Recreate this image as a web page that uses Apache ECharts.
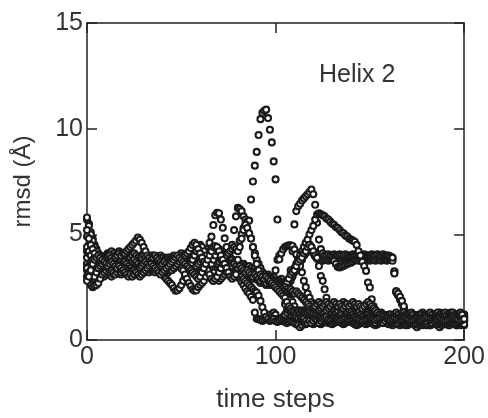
<!DOCTYPE html>
<html>
<head>
<meta charset="utf-8">
<script src="https://cdn.jsdelivr.net/npm/echarts@6/dist/echarts.min.js"></script>
<style>
html,body{margin:0;padding:0;background:#fff;}
#chart{width:488px;height:418px;}
</style>
</head>
<body>
<div id="chart"></div>
<script>
// x: time step index (0..200), values: rmsd (Å)
const xTicks = [0, 100, 200];
const yTicks = [0, 5, 10, 15];
const panelLabel = 'Helix 2';

const run1 = [
5.7,5.5,5.1,4.8,4.5,4.3,4.1,4.0,3.9,3.9,
3.8,3.7,3.8,3.6,3.7,3.5,3.6,3.7,3.6,3.5,
3.6,3.5,3.4,3.5,3.6,3.5,3.4,3.5,3.6,3.7,
3.6,3.7,3.8,3.7,3.6,3.7,3.8,3.9,3.8,3.7,
3.6,3.5,3.6,3.7,3.6,3.5,3.4,3.5,3.6,3.7,
3.8,3.9,3.8,3.7,3.6,3.5,3.4,3.3,3.4,3.5,
3.6,3.7,3.8,3.7,3.6,3.5,3.6,3.7,3.8,3.9,
4.0,4.1,4.2,4.1,4.0,4.1,4.3,4.5,5.2,5.85,
6.25,6.2,6.1,5.85,5.7,5.6,5.65,6.65,7.5,8.25,
8.9,9.7,10.45,10.75,10.85,10.9,10.5,9.95,9.35,8.45,
7.6,5.7,4.0,2.9,2.2,1.7,1.4,1.3,1.2,1.3,
1.2,1.1,1.0,0.9,1.0,1.1,1.0,0.9,1.0,1.1,
1.0,1.1,1.0,0.9,0.8,0.9,1.0,0.9,0.8,0.9,
1.0,1.1,1.0,0.9,1.0,0.9,0.8,0.9,1.0,1.1,
1.0,0.9,1.0,1.1,1.0,0.9,0.8,0.9,1.0,0.9,
1.0,1.1,1.0,0.9,1.0,1.1,1.2,1.1,1.0,0.9,
1.0,0.9,0.8,0.9,1.0,1.1,1.0,0.9,1.0,1.1,
1.0,0.9,0.8,0.9,1.0,0.9,1.0,1.1,1.0,0.9,
0.8,0.9,1.0,1.1,1.0,0.9,1.0,0.9,0.8,0.9,
1.0,1.1,1.0,0.9,1.0,0.9,0.8,0.9,1.0,1.1,1.0];

const run2 = [
5.8,5.4,5.0,4.7,4.4,4.2,4.0,3.9,3.8,3.9,
4.0,4.1,4.0,3.9,4.0,4.1,4.0,3.9,3.8,3.9,
3.8,3.7,3.8,3.9,3.8,3.7,3.6,3.7,3.8,3.7,
3.6,3.5,3.6,3.7,3.8,3.7,3.6,3.5,3.6,3.7,
3.8,3.9,3.8,3.7,3.8,3.9,4.0,3.9,3.8,3.7,
3.6,3.7,3.8,3.9,4.0,3.9,3.8,3.7,3.6,3.5,
3.4,3.5,3.6,3.7,3.8,3.9,4.0,4.1,4.0,3.9,
3.8,3.7,3.6,3.5,3.6,3.7,3.6,3.5,3.4,3.5,
3.4,3.3,3.4,3.3,3.2,3.3,3.2,3.1,3.2,3.1,
3.0,3.1,3.0,2.9,3.0,2.9,2.8,2.9,2.8,2.7,
2.8,2.7,2.6,2.7,2.6,2.5,2.6,2.7,2.9,3.1,
3.3,3.5,3.6,3.8,3.9,4.0,4.2,4.3,4.5,4.4,
4.2,4.0,3.95,3.9,3.9,3.85,3.9,3.9,3.95,3.9,
3.9,3.85,3.9,3.9,3.9,3.85,3.9,3.9,3.95,3.9,
3.9,3.9,3.85,3.9,3.9,3.9,3.85,3.9,3.9,3.9,
3.9,3.85,3.9,3.9,3.9,3.9,3.85,3.9,3.9,3.85,
3.9,3.9,3.85,3.2,2.3,2.15,2.0,1.8,1.55,1.3,
1.1,1.0,1.1,1.2,1.1,1.0,1.1,1.2,1.3,1.2,
1.1,1.0,1.1,1.2,1.1,1.2,1.1,1.0,1.1,1.2,
1.2,1.1,1.2,1.3,1.2,1.1,1.0,1.1,1.2,1.1,1.2];

const run3 = [
4.9,4.5,4.2,4.0,3.8,3.7,3.6,3.5,3.4,3.5,
3.4,3.3,3.4,3.5,3.4,3.3,3.2,3.3,3.4,3.3,
3.2,3.3,3.4,3.3,3.2,3.3,3.4,3.3,3.2,3.3,
3.4,3.5,3.4,3.3,3.4,3.5,3.4,3.3,3.4,3.5,
3.6,3.5,3.4,3.5,3.6,3.7,3.8,3.7,3.6,3.5,
3.4,3.3,3.2,3.3,3.4,3.5,3.6,3.7,3.8,3.9,
4.0,3.9,3.8,3.7,3.6,3.5,3.4,3.3,3.2,3.3,
3.4,3.5,3.4,3.3,3.4,3.5,3.6,3.5,3.4,3.3,
3.4,3.5,3.4,3.3,3.4,3.3,3.2,3.3,3.4,3.3,
3.2,3.1,3.0,3.1,3.0,2.9,3.0,2.9,2.8,2.9,
2.8,2.7,2.8,2.7,2.6,2.7,2.6,2.7,2.8,3.0,
3.2,3.4,3.5,3.7,3.8,4.0,4.1,4.3,4.4,4.3,
4.1,3.95,3.85,3.8,3.8,3.75,3.8,3.8,3.75,3.8,
3.8,3.75,3.6,3.45,3.43,3.47,3.5,3.55,3.6,3.63,
3.66,3.72,3.78,3.8,3.75,3.8,3.8,3.75,3.8,3.8,
3.75,3.8,3.8,3.75,3.8,3.8,3.75,3.8,3.8,3.75,
3.8,3.8,3.75,3.25,2.25,2.1,1.9,1.7,1.5,1.2,
0.9,0.8,0.9,0.8,0.7,0.8,0.9,0.8,0.7,0.8,
0.9,0.8,0.7,0.8,0.9,0.8,0.7,0.8,0.9,1.0,
0.9,0.8,0.7,0.8,0.9,0.8,0.7,0.8,0.7,0.8,0.9];

const run4 = [
3.6,3.9,4.2,4.0,3.8,3.6,3.5,3.4,3.3,3.2,
3.1,3.2,3.3,3.4,3.3,3.4,3.5,3.6,3.5,3.4,
3.5,3.6,3.7,3.6,3.5,3.4,3.5,3.6,3.5,3.4,
3.3,3.4,3.5,3.4,3.3,3.4,3.5,3.6,3.7,3.6,
3.5,3.6,3.7,3.8,3.9,3.8,3.7,3.6,3.7,3.8,
3.9,4.0,3.9,3.8,3.7,3.6,3.5,3.4,3.3,3.2,
3.3,3.2,3.1,3.0,3.1,3.2,3.3,3.4,3.5,3.6,
3.7,3.8,3.7,3.6,3.5,3.4,3.5,3.6,3.5,3.4,
3.5,3.6,3.5,3.4,3.3,3.4,3.3,3.2,3.3,3.2,
3.1,3.0,2.9,3.0,2.9,2.8,2.9,2.8,2.7,2.8,
2.7,2.6,2.7,2.6,2.5,2.6,2.7,2.9,3.3,4.2,
5.47,6.1,6.33,6.45,6.6,6.7,6.8,6.9,7.0,7.12,
6.9,6.4,5.55,4.75,4.3,4.1,4.0,4.0,4.05,4.0,
4.0,4.05,4.0,4.0,4.05,4.0,4.0,4.05,4.0,4.0,
4.0,4.05,4.0,4.0,4.05,4.0,4.0,4.05,4.0,4.0,
4.0,4.05,4.0,4.0,4.05,4.0,4.0,4.05,4.0,4.0,
4.0,3.95,3.9,3.15,2.3,2.2,2.05,1.85,1.6,1.3,
1.1,1.0,0.9,1.0,0.9,0.8,0.9,1.0,0.9,1.0,
1.1,1.0,0.9,0.8,0.9,1.0,1.1,1.0,0.9,1.0,
1.1,1.0,0.9,1.0,1.1,1.2,1.1,1.0,0.9,1.0,0.9];

const run5 = [
4.2,4.0,3.7,3.4,3.2,3.0,2.9,3.0,3.2,3.4,
3.6,3.8,3.9,4.0,4.1,4.0,4.1,4.2,4.1,4.0,
3.9,4.0,4.1,4.0,3.9,3.8,3.7,3.8,3.9,4.0,
4.1,4.0,3.9,3.8,3.9,4.0,3.9,3.8,3.7,3.6,
3.5,3.4,3.3,3.2,3.3,3.4,3.5,3.6,3.7,3.6,
3.5,3.4,3.5,3.6,3.7,3.8,3.9,4.0,4.1,4.2,
4.1,4.0,3.9,3.8,3.7,3.6,3.5,3.4,3.3,3.2,
3.1,3.0,3.1,3.2,3.3,3.4,3.5,3.6,3.7,3.6,
3.5,3.4,3.3,3.2,3.1,3.0,3.1,3.0,2.9,3.0,
2.9,2.8,2.7,2.8,2.7,2.6,2.7,2.8,2.9,3.0,
3.3,3.8,3.82,4.1,4.29,4.4,4.45,4.48,4.48,4.45,
4.29,4.05,3.82,3.5,3.2,2.8,2.5,2.2,2.0,1.8,
1.7,1.6,1.7,1.6,1.5,1.6,1.7,1.6,1.5,1.6,
1.7,1.6,1.5,1.4,1.5,1.6,1.7,1.6,1.5,1.6,
1.5,1.4,1.5,1.6,1.5,1.4,1.3,1.4,1.5,1.4,
1.3,1.2,1.3,1.2,1.1,1.2,1.3,1.2,1.1,1.0,
1.1,1.2,1.1,1.0,1.1,1.2,1.1,1.0,0.9,1.0,
1.1,1.2,1.1,1.0,1.1,1.0,0.9,1.0,1.1,1.2,
1.1,1.0,1.1,1.2,1.1,1.0,0.9,1.0,1.1,1.0,
0.9,1.0,1.1,1.0,0.9,1.0,1.1,1.2,1.1,1.0,1.1];

const run6 = [
3.3,3.5,3.7,3.6,3.5,3.4,3.3,3.2,3.1,3.0,
3.1,3.2,3.1,3.0,3.1,3.2,3.3,3.2,3.1,3.2,
3.3,3.4,3.3,3.2,3.3,3.4,3.5,3.4,3.3,3.4,
3.5,3.6,3.7,3.8,3.9,3.8,3.7,3.6,3.5,3.4,
3.3,3.2,3.3,3.4,3.5,3.6,3.7,3.8,3.9,4.0,
4.1,4.0,3.9,3.8,3.7,3.6,3.7,3.8,3.7,3.6,
3.5,3.4,3.3,3.2,3.1,3.0,2.9,2.8,2.9,3.0,
3.1,3.2,3.3,3.4,3.5,3.6,3.7,3.8,3.7,3.6,
3.7,3.6,3.5,3.6,3.5,3.4,3.5,3.4,3.3,3.4,
3.3,3.2,3.3,3.2,3.1,3.0,3.1,3.0,2.9,2.8,
2.7,2.6,2.5,2.4,2.5,2.6,2.6,2.8,3.0,3.2,
3.4,3.6,3.8,4.0,4.2,4.4,4.6,4.75,5.0,5.2,
5.4,5.7,5.94,6.0,5.95,5.9,5.85,5.75,5.7,5.6,
5.5,5.45,5.35,5.3,5.2,5.1,5.05,4.95,4.9,4.8,
4.75,4.7,4.65,4.5,4.2,4.0,3.7,3.5,3.27,2.72,
2.49,1.93,1.6,1.4,1.3,1.2,1.1,1.0,0.9,0.8,
0.9,0.8,0.7,0.8,0.9,0.8,0.7,0.8,0.9,0.8,
0.7,0.8,0.9,0.8,0.7,0.6,0.7,0.8,0.9,0.8,
0.7,0.8,0.7,0.8,0.9,0.8,0.7,0.6,0.7,0.8,
0.9,0.8,0.7,0.8,0.9,0.8,0.7,0.8,0.9,0.8,0.7];

const run7 = [
3.9,4.1,4.3,4.1,3.9,3.7,3.6,3.7,3.8,3.9,
3.8,3.7,3.6,3.7,3.8,3.9,3.8,3.7,3.8,3.9,
4.0,4.1,4.0,3.9,4.0,4.1,4.0,3.9,3.8,3.9,
4.0,3.9,3.8,3.9,4.0,3.9,3.8,3.7,3.8,3.9,
3.8,3.7,3.8,3.9,3.8,3.7,3.6,3.7,3.8,3.9,
3.8,3.7,3.6,3.5,3.6,3.7,3.8,3.9,3.8,3.7,
3.8,3.9,4.0,4.1,4.3,4.6,4.89,5.44,5.9,6.02,
6.0,5.7,5.31,4.81,4.4,4.1,3.9,3.8,3.7,3.6,
3.5,3.4,3.5,3.4,3.3,3.2,3.1,3.2,3.1,3.0,
2.9,3.0,2.9,2.8,2.9,2.8,2.7,2.6,2.7,2.6,
2.5,2.6,2.5,2.4,2.5,2.6,2.7,2.9,3.1,3.2,
3.3,3.5,3.7,3.8,3.9,4.1,4.2,4.4,4.5,4.4,
4.2,4.0,3.9,3.5,3.03,2.8,2.4,2.0,1.7,1.5,
1.6,1.7,1.6,1.5,1.6,1.7,1.8,1.7,1.6,1.5,
1.6,1.7,1.6,1.5,1.4,1.5,1.6,1.5,1.4,1.3,
1.2,1.3,1.2,1.1,1.0,1.1,1.0,0.9,1.0,1.1,
1.2,1.1,1.0,0.9,1.0,0.9,0.8,0.9,1.0,0.9,
0.8,0.9,1.0,1.1,1.0,1.1,1.2,1.1,1.0,0.9,
1.0,1.1,1.2,1.1,1.0,1.1,1.2,1.3,1.2,1.1,
1.0,0.9,1.0,1.1,1.2,1.1,1.2,1.1,1.0,1.1,1.2];

const run8 = [
3.4,3.2,3.0,2.9,3.0,3.2,3.4,3.6,3.7,3.8,
3.9,4.0,4.1,4.2,4.1,4.0,3.9,3.8,3.7,3.6,
3.5,3.4,3.5,3.6,3.7,3.8,3.7,3.6,3.5,3.4,
3.3,3.2,3.3,3.4,3.5,3.6,3.7,3.8,3.9,4.0,
3.9,3.8,3.7,3.6,3.5,3.6,3.7,3.8,3.7,3.6,
3.5,3.4,3.3,3.4,3.5,3.4,3.3,3.4,3.5,3.6,
3.7,3.8,3.9,4.0,4.1,4.2,4.3,4.4,4.3,4.2,
4.1,4.0,3.9,3.8,3.7,3.6,3.5,3.4,3.3,3.15,
3.0,2.9,2.75,2.6,2.45,2.3,2.2,2.05,1.9,1.3,
1.0,1.0,0.95,0.9,0.95,1.0,1.1,1.2,1.1,1.3,
1.2,1.0,0.9,1.0,1.1,1.2,1.3,1.4,1.35,1.4,
1.35,1.4,1.35,1.4,1.35,1.4,1.35,1.4,1.3,1.2,
1.3,1.2,1.3,1.4,1.5,1.6,1.5,1.4,1.5,1.6,
1.5,1.4,1.3,1.4,1.5,1.4,1.3,1.2,1.3,1.4,
1.3,1.2,1.1,1.2,1.3,1.2,1.1,1.0,1.1,1.2,
1.1,1.0,0.9,1.0,0.9,0.8,0.9,1.0,0.9,0.8,
0.9,1.0,0.9,1.0,1.1,1.0,0.9,0.8,0.9,1.0,
1.1,1.0,0.9,0.8,0.9,1.0,0.9,0.8,0.9,1.0,
0.9,0.8,0.9,1.0,0.9,0.8,0.9,1.0,1.1,1.0,
0.9,1.0,0.9,0.8,0.9,1.0,1.1,1.0,0.9,0.8,0.9];

const run9 = [
3.0,2.8,2.6,2.5,2.55,2.6,2.7,2.9,3.1,3.2,
3.3,3.4,3.5,3.4,3.3,3.2,3.3,3.4,3.5,3.6,
3.7,3.6,3.5,3.4,3.3,3.2,3.3,3.4,3.3,3.2,
3.3,3.4,3.3,3.2,3.3,3.4,3.5,3.4,3.3,3.2,
3.1,3.0,2.9,2.8,2.7,2.6,2.45,2.33,2.35,2.45,
2.6,2.8,3.0,3.2,3.4,3.6,3.8,4.0,4.2,4.4,
4.5,4.4,4.2,4.0,3.8,3.6,3.4,3.2,3.0,2.9,
2.8,2.9,3.0,3.1,3.2,3.3,3.2,3.1,3.0,3.1,
3.2,3.1,3.0,2.9,2.8,2.7,2.6,2.5,2.4,2.3,
2.25,2.1,1.85,1.55,1.3,1.1,1.0,0.9,0.95,1.0,
0.9,0.85,0.9,0.95,0.9,0.85,0.8,0.85,0.9,0.85,
0.8,0.75,0.7,0.6,0.7,0.8,0.75,0.8,0.85,0.8,
0.75,0.8,0.85,0.8,0.75,0.8,0.85,0.9,0.85,0.8,
0.75,0.8,0.85,0.9,0.85,0.8,0.75,0.8,0.85,0.9,
0.85,0.8,0.75,0.7,0.75,0.8,0.85,0.8,0.75,0.8,
0.85,0.8,0.75,0.7,0.75,0.8,0.85,0.9,0.85,0.8,
0.75,0.8,0.85,0.8,0.75,0.8,0.85,0.8,0.75,0.7,
0.75,0.8,0.85,0.8,0.75,0.8,0.85,0.9,0.85,0.8,
0.75,0.7,0.75,0.8,0.85,0.8,0.75,0.8,0.85,0.8,
0.75,0.8,0.85,0.9,0.85,0.8,0.75,0.8,0.85,0.8,0.75];

const run10 = [
4.4,4.2,4.0,3.8,3.6,3.5,3.4,3.5,3.6,3.7,
3.8,3.9,4.0,3.9,3.8,3.9,4.0,4.1,4.0,4.1,
4.1,4.2,4.3,4.4,4.5,4.6,4.7,4.85,4.75,4.6,
4.4,4.2,4.0,3.9,3.8,3.9,4.0,3.9,3.8,3.7,
3.6,3.7,3.8,3.7,3.6,3.5,3.4,3.5,3.6,3.5,
3.4,3.3,3.1,2.9,2.7,2.55,2.4,2.33,2.35,2.5,
2.6,2.7,2.8,3.0,3.2,3.4,3.6,3.8,4.0,4.2,
4.3,4.2,4.0,3.8,3.6,3.5,3.4,3.5,3.6,3.5,
3.4,3.5,3.4,3.3,3.2,3.3,3.2,3.1,3.0,3.1,
3.0,2.9,2.8,2.9,2.8,2.7,2.8,2.7,2.6,2.7,
2.6,2.5,2.6,2.5,2.4,2.5,2.4,2.3,2.4,2.3,
2.2,2.3,2.2,2.1,2.0,1.9,1.8,1.7,1.6,1.5,
1.5,1.6,1.7,1.8,1.7,1.6,1.7,1.8,1.7,1.6,
1.7,1.8,1.7,1.6,1.7,1.6,1.5,1.6,1.7,1.6,
1.7,1.8,1.7,1.6,1.7,1.6,1.5,1.6,1.7,1.8,
1.7,1.6,1.5,1.4,1.3,1.2,1.1,1.2,1.1,1.0,
1.1,1.2,1.1,1.2,1.3,1.2,1.1,1.2,1.3,1.2,
1.1,1.2,1.3,1.2,1.1,1.0,1.1,1.2,1.1,1.0,
1.1,1.2,1.3,1.2,1.1,1.2,1.3,1.2,1.1,1.2,
1.3,1.2,1.1,1.2,1.3,1.2,1.1,1.2,1.3,1.2,1.1];

const run11 = [
5.2,4.8,4.5,4.3,4.1,3.9,3.8,3.7,3.6,3.7,
3.6,3.5,3.4,3.3,3.2,3.1,3.2,3.3,3.2,3.3,
3.4,3.3,3.2,3.1,3.2,3.3,3.2,3.3,3.4,3.5,
3.6,3.7,3.6,3.5,3.4,3.3,3.2,3.3,3.4,3.5,
3.6,3.7,3.6,3.5,3.4,3.3,3.4,3.5,3.6,3.7,
3.8,3.9,4.0,4.1,4.2,4.35,4.5,4.6,4.5,4.3,
4.1,3.9,3.7,3.5,3.3,3.1,2.9,2.8,2.9,3.0,
3.2,3.4,3.6,3.8,4.0,4.1,4.2,4.3,4.4,4.3,
4.2,4.7,5.0,5.3,5.47,5.2,5.0,4.8,4.4,4.1,
3.8,3.6,3.4,3.2,3.1,3.0,2.9,2.8,2.9,2.8,
2.7,2.6,2.5,2.4,2.3,2.2,2.1,2.0,1.9,1.8,
1.6,1.4,1.3,1.2,1.1,1.0,0.9,0.8,0.9,0.8,
0.9,1.0,0.9,0.8,0.9,1.0,1.1,1.0,0.9,1.0,
1.1,1.0,0.9,1.0,1.1,1.2,1.1,1.0,0.9,1.0,
1.1,1.2,1.1,1.0,0.9,1.0,1.1,1.0,0.9,1.0,
1.1,1.0,0.9,0.8,0.9,1.0,0.9,0.8,0.9,1.0,
0.9,1.0,1.1,1.0,0.9,0.8,0.9,1.0,1.1,1.0,
0.9,1.0,1.1,1.2,1.1,1.0,0.9,1.0,1.1,1.0,
0.9,1.0,0.9,0.8,0.9,1.0,1.1,1.0,0.9,1.0,
1.1,1.0,0.9,1.0,1.1,1.0,0.9,1.0,1.1,1.2,1.0];

const run12 = [
2.8,3.0,3.3,3.6,3.8,3.9,4.0,3.9,3.8,3.7,
3.6,3.5,3.6,3.7,3.6,3.5,3.4,3.5,3.4,3.3,
3.2,3.1,3.0,3.1,3.0,3.1,3.2,3.1,3.0,3.1,
3.2,3.3,3.4,3.5,3.6,3.5,3.4,3.3,3.2,3.1,
3.2,3.3,3.4,3.5,3.6,3.7,3.8,3.9,4.0,3.9,
3.8,3.7,3.6,3.5,3.4,3.3,3.2,3.1,3.0,2.9,
3.0,3.2,3.4,3.6,3.8,4.0,4.2,4.4,4.45,4.4,
4.2,4.0,3.8,3.6,3.4,3.2,3.0,2.9,3.0,3.1,
3.8,4.4,4.8,5.2,5.45,5.3,5.05,4.8,4.4,4.0,
3.6,3.3,3.1,3.0,2.9,3.0,2.9,2.8,2.7,2.6,
2.5,2.4,2.3,2.2,2.1,2.0,1.8,1.6,1.5,1.4,
1.35,1.3,1.35,1.3,1.35,1.3,1.25,1.3,1.35,1.3,
1.25,1.2,1.15,1.1,1.05,1.0,1.05,1.1,1.0,0.95,
1.0,1.05,1.0,0.95,0.9,0.95,1.0,1.05,1.0,0.95,
1.0,1.05,1.1,1.05,1.0,0.95,0.9,0.95,1.0,1.05,
1.1,1.05,1.0,0.95,1.0,1.05,1.1,1.15,1.1,1.05,
1.0,0.95,1.0,1.05,1.0,0.95,0.9,0.95,1.0,1.05,
1.0,0.95,0.9,0.95,1.0,1.05,1.0,0.95,1.0,1.05,
1.1,1.05,1.0,0.95,0.9,0.95,1.0,1.05,1.0,0.95,
0.9,0.95,1.0,1.05,1.1,1.05,1.0,0.95,0.9,0.95,1.0];

const runs = [run1, run2, run3, run4, run5, run6, run7, run8, run9, run10, run11, run12];

const FONT = '"Liberation Sans", Arial, Helvetica, sans-serif';
const TXT = '#333';
const AX = '#222';

const chart = echarts.init(document.getElementById('chart'), null, {renderer: 'canvas'});

function axisCommon(showLabel) {
  return {
    axisLine: {show: true, onZero: false, lineStyle: {color: AX, width: 1.5}},
    axisTick: {show: true, inside: true, length: 10, lineStyle: {color: AX, width: 1.5}},
    splitLine: {show: false},
    axisLabel: {show: showLabel, color: TXT, fontSize: 25, fontFamily: FONT}
  };
}

const series = runs.map((vals, k) => ({
  type: 'scatter',
  name: 'run' + (k + 1),
  xAxisIndex: 0,
  yAxisIndex: 0,
  symbol: 'circle',
  symbolSize: 6,
  silent: true,
  itemStyle: {color: '#ffffff', borderColor: '#1a1a1a', borderWidth: 2.1, opacity: 1},
  data: vals.map((v, i) => [i, v])
}));

chart.setOption({
  animation: false,
  backgroundColor: '#ffffff',
  textStyle: {fontFamily: FONT},
  grid: {left: 87, right: 23, top: 23, bottom: 77, containLabel: false},
  xAxis: [
    Object.assign({
      type: 'value', min: xTicks[0], max: xTicks[xTicks.length - 1], interval: xTicks[1] - xTicks[0],
      position: 'bottom',
      name: 'time steps', nameLocation: 'middle', nameGap: 47,
      nameTextStyle: {color: TXT, fontSize: 26, fontFamily: FONT}
    }, axisCommon(true), {axisLabel: {show: true, color: TXT, fontSize: 25, fontFamily: FONT, margin: 5}}),
    Object.assign({
      type: 'value', min: xTicks[0], max: xTicks[xTicks.length - 1], interval: xTicks[1] - xTicks[0],
      position: 'top'
    }, axisCommon(false))
  ],
  yAxis: [
    Object.assign({
      type: 'value', min: yTicks[0], max: yTicks[yTicks.length - 1], interval: yTicks[1] - yTicks[0],
      position: 'left',
      name: 'rmsd (Å)', nameLocation: 'middle', nameGap: 52, nameRotate: 90,
      nameTextStyle: {color: TXT, fontSize: 24, fontFamily: FONT}
    }, axisCommon(true), {axisLabel: {show: true, color: TXT, fontSize: 25, fontFamily: FONT, margin: 4}}),
    Object.assign({
      type: 'value', min: yTicks[0], max: yTicks[yTicks.length - 1], interval: yTicks[1] - yTicks[0],
      position: 'right'
    }, axisCommon(false))
  ],
  graphic: [{
    type: 'text', left: 319, top: 63, silent: true,
    style: {text: panelLabel, fill: TXT, font: '25px ' + FONT}
  }],
  series: series
});
</script>
</body>
</html>
